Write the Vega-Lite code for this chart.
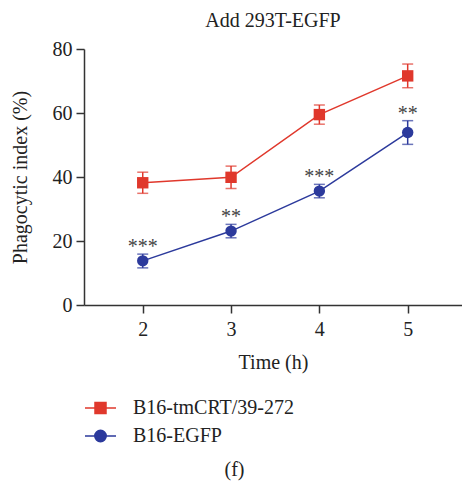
{
  "$schema": "https://vega.github.io/schema/vega-lite/v6.json",
  "autosize": {"type": "none"},
  "width": 378,
  "height": 256,
  "padding": {"left": 84, "top": 49, "right": 0, "bottom": 176},
  "background": "white",
  "config": {
    "view": {"stroke": null},
    "font": "Liberation Serif",
    "axis": {"grid": false, "domainColor": "#333333", "tickColor": "#333333", "domainWidth": 1.5, "tickWidth": 1.5, "labelFont": "Liberation Serif", "titleFont": "Liberation Serif", "labelFontSize": 20, "titleFontSize": 20, "labelColor": "#222222", "titleColor": "#222222", "titleFontWeight": "normal"}
  },
  "title": {"text": "Add 293T-EGFP", "font": "Liberation Serif", "fontSize": 20, "fontWeight": "normal", "color": "#222222", "anchor": "middle", "offset": 8},
  "data": {
    "values": [
      {"time": 2, "series": "B16-tmCRT/39-272", "mean": 38.2, "lo": 34.9, "hi": 41.5, "sig": ""},
      {"time": 3, "series": "B16-tmCRT/39-272", "mean": 39.9, "lo": 36.4, "hi": 43.4, "sig": ""},
      {"time": 4, "series": "B16-tmCRT/39-272", "mean": 59.5, "lo": 56.5, "hi": 62.5, "sig": ""},
      {"time": 5, "series": "B16-tmCRT/39-272", "mean": 71.6, "lo": 67.9, "hi": 75.3, "sig": ""},
      {"time": 2, "series": "B16-EGFP", "mean": 13.8, "lo": 11.6, "hi": 15.9, "sig": "***"},
      {"time": 3, "series": "B16-EGFP", "mean": 23.1, "lo": 21.0, "hi": 25.2, "sig": "**"},
      {"time": 4, "series": "B16-EGFP", "mean": 35.6, "lo": 33.5, "hi": 37.7, "sig": "***"},
      {"time": 5, "series": "B16-EGFP", "mean": 53.9, "lo": 50.2, "hi": 57.6, "sig": "**"}
    ]
  },
  "encoding": {
    "x": {"field": "time", "type": "quantitative", "scale": {"domain": [1.335, 5.615], "nice": false, "zero": false},
      "axis": {"values": [2, 3, 4, 5], "title": "Time (h)", "tickSize": 8, "labelPadding": 6, "titlePadding": 13, "labelFlush": false}},
    "color": {"field": "series", "type": "nominal", "scale": {"domain": ["B16-tmCRT/39-272", "B16-EGFP"], "range": ["#e0382c", "#2c3a9c"]},
      "legend": {
        "orient": "none", "legendX": 5.5, "legendY": 348, "direction": "vertical",
        "title": "(f)", "titleOrient": "bottom", "titleAnchor": "middle", "titlePadding": 14,
        "titleFont": "Liberation Serif", "titleFontSize": 20, "titleFontWeight": "normal", "titleColor": "#222222",
        "labelFont": "Liberation Serif", "labelFontSize": 20, "labelColor": "#222222", "labelOffset": 21.5, "labelLimit": 400,
        "symbolSize": 400, "symbolStrokeWidth": 1.5, "rowPadding": 7, "padding": 0,
        "encoding": {
          "symbols": {
            "shape": {"value": {"expr": "datum.value == 'B16-EGFP' ? 'M-1.55,0H1.55M0.57,0A0.57,0.57 0 1,1 -0.57,0A0.57,0.57 0 1,1 0.57,0Z' : 'M-1.55,0H1.55M-0.55,-0.55H0.55V0.55H-0.55Z'"}},
            "fill": {"value": {"expr": "datum.value == 'B16-EGFP' ? '#2c3a9c' : '#e0382c'"}},
            "stroke": {"value": {"expr": "datum.value == 'B16-EGFP' ? '#2c3a9c' : '#e0382c'"}},
            "strokeWidth": {"value": 1.5},
            "opacity": {"value": 1}
          },
          "title": {"dx": {"value": 43}}
        }
      }}
  },
  "layer": [
    {
      "mark": {"type": "line", "strokeWidth": 1.5},
      "encoding": {"y": {"field": "mean", "type": "quantitative", "scale": {"domain": [0, 80], "nice": false},
        "axis": {"values": [0, 20, 40, 60, 80], "title": "Phagocytic index (%)", "tickSize": 8, "labelPadding": 4, "titlePadding": 22}}}
    },
    {
      "mark": {"type": "rule", "strokeWidth": 1.5},
      "encoding": {"y": {"field": "lo", "type": "quantitative"}, "y2": {"field": "hi"}}
    },
    {
      "mark": {"type": "tick", "orient": "horizontal", "size": 11, "thickness": 1.5},
      "encoding": {"y": {"field": "lo", "type": "quantitative"}}
    },
    {
      "mark": {"type": "tick", "orient": "horizontal", "size": 11, "thickness": 1.5},
      "encoding": {"y": {"field": "hi", "type": "quantitative"}}
    },
    {
      "transform": [{"filter": "datum.series == 'B16-tmCRT/39-272'"}],
      "mark": {"type": "point", "shape": "square", "filled": true, "opacity": 1, "size": 130},
      "encoding": {"y": {"field": "mean", "type": "quantitative"}}
    },
    {
      "transform": [{"filter": "datum.series == 'B16-EGFP'"}],
      "mark": {"type": "point", "shape": "circle", "filled": true, "opacity": 1, "size": 130},
      "encoding": {"y": {"field": "mean", "type": "quantitative"}}
    },
    {
      "mark": {"type": "text", "font": "Liberation Serif", "fontSize": 20, "baseline": "alphabetic", "dy": -1},
      "encoding": {"y": {"field": "hi", "type": "quantitative"}, "text": {"field": "sig"}, "color": {"value": "#444444"}}
    }
  ]
}
